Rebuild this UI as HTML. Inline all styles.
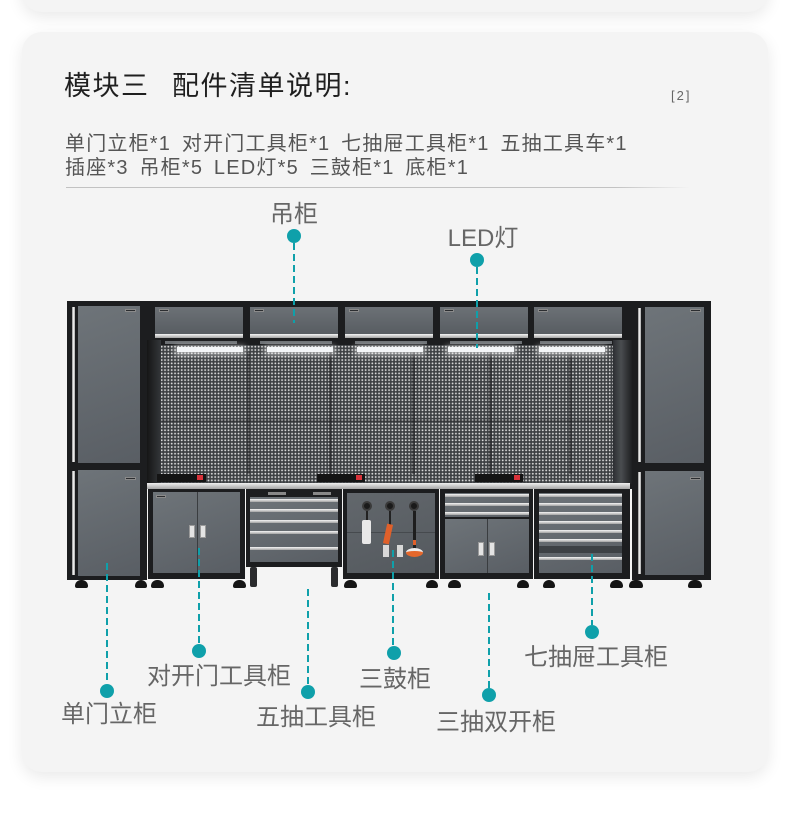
<!DOCTYPE html>
<html><head><meta charset="utf-8">
<style>
*{margin:0;padding:0;box-sizing:border-box}
html,body{width:790px;height:828px;background:#fff;overflow:hidden}
body{position:relative;font-family:"Liberation Sans","Noto Sans CJK SC",sans-serif}
.a{position:absolute}
.card{position:absolute;left:22px;width:746px;background:#f4f4f4;border-radius:20px;box-shadow:0 5px 16px rgba(0,0,0,0.09)}
.lbl{position:absolute;width:200px;text-align:center;font-size:24px;line-height:24px;color:#666;white-space:nowrap}
.dot{position:absolute;width:14px;height:14px;border-radius:50%;background:#0fa0aa}
.ln{position:absolute;width:2px;background:repeating-linear-gradient(to bottom,#0fa0aa 0 7px,transparent 7px 11px)}
.blk{position:absolute;background:#1c1d1f}
.door{position:absolute;background:linear-gradient(160deg,#6e7479,#595e64)}
.chr{position:absolute;background:linear-gradient(#f6f6f6,#a3a3a3)}
.vchr{position:absolute;background:linear-gradient(90deg,#8a8a8a,#fafafa,#a0a0a0)}
.foot{position:absolute;top:580px;height:8px;background:#151515;border-radius:6px 6px 2px 2px}
.pw{position:absolute;top:474px;height:8px;background:#141414}
.red{position:absolute;width:6px;height:5px;background:#d9323a;top:1px}
.badge{position:absolute;height:3px;background:#2b2d30;border:1px solid #8a8a8a}
.hd{position:absolute;background:#e4e4e4;border:1px solid #9a9a9a}
.hc{position:absolute;top:307px;width:88px;height:28px;background:linear-gradient(180deg,#6c7176,#575c61)}
.hs{position:absolute;top:334px;width:88px;height:4px;background:linear-gradient(#f6f6f6,#a3a3a3)}
.hb{position:absolute;top:341px;width:72px;height:3px;background:#6d7175}
.led{position:absolute;top:347px;width:66px;height:5px;background:#f4f6f8;box-shadow:0 1px 6px 2px rgba(255,255,255,0.55)}
.seam{position:absolute;top:352px;width:3px;height:122px;background:rgba(20,20,22,0.4)}
</style></head><body>

<!-- previous card bottom -->
<div class="card" style="top:-40px;height:52px"></div>
<!-- main card -->
<div class="card" style="top:32px;height:740px"></div>

<!-- title -->
<div class="a" style="left:64px;top:73px;font-size:27px;line-height:27px;color:#1f1f1f;letter-spacing:1.5px;white-space:nowrap">模块三</div>
<div class="a" style="left:172px;top:73px;font-size:27px;line-height:27px;color:#1f1f1f;letter-spacing:1.5px;white-space:nowrap">配件清单说明:</div>
<div class="a" style="left:671px;top:88px;font-size:13px;line-height:15px;color:#666;letter-spacing:2px">[2]</div>

<!-- list -->
<div class="a" style="left:65px;top:132px;font-size:20px;line-height:24px;color:#555;letter-spacing:1.2px;word-spacing:4px;white-space:nowrap">单门立柜*1 对开门工具柜*1 七抽屉工具柜*1 五抽工具车*1<br>插座*3 吊柜*5 LED灯*5 三鼓柜*1 底柜*1</div>
<div class="a" style="left:66px;top:187px;width:624px;height:1px;background:linear-gradient(90deg,#c2c2c2 0,#c2c2c2 88%,rgba(194,194,194,0) 100%)"></div>

<!-- ===== CABINET ===== -->
<div class="blk" style="left:145px;top:301px;width:488px;height:188px"></div>

<!-- hanging cabinets -->
<div class="hc" style="left:155px"></div><div class="hs" style="left:155px"></div>
<div class="hc" style="left:250px"></div><div class="hs" style="left:250px"></div>
<div class="hc" style="left:345px"></div><div class="hs" style="left:345px"></div>
<div class="hc" style="left:440px"></div><div class="hs" style="left:440px"></div>
<div class="hc" style="left:534px"></div><div class="hs" style="left:534px"></div>
<div class="badge" style="left:159px;top:309px;width:10px"></div>
<div class="badge" style="left:254px;top:309px;width:10px"></div>
<div class="badge" style="left:349px;top:309px;width:10px"></div>
<div class="badge" style="left:444px;top:309px;width:10px"></div>
<div class="badge" style="left:538px;top:309px;width:10px"></div>

<!-- pegboard -->
<div class="a" style="left:160px;top:345px;width:454px;height:138px;background-color:#3c3f42;background-image:radial-gradient(circle,#d8d8d8 0,#d8d8d8 0.7px,rgba(216,216,216,0) 1.15px);background-size:3.35px 3.35px"></div>
<div class="a" style="left:160px;top:420px;width:454px;height:2px;background:rgba(30,30,32,0.35)"></div>
<div class="seam" style="left:247px"></div>
<div class="seam" style="left:329px"></div>
<div class="seam" style="left:412px"></div>
<div class="seam" style="left:489px"></div>
<div class="seam" style="left:569px"></div>
<!-- side returns -->
<div class="a" style="left:145px;top:340px;width:16px;height:144px;background:linear-gradient(90deg,#111,#34373a)"></div>
<div class="a" style="left:613px;top:340px;width:20px;height:144px;background:linear-gradient(90deg,#2c2f32,#4a4d50 40%,#1a1b1d)"></div>

<!-- LED housings & lights -->
<div class="hb" style="left:165px"></div><div class="led" style="left:177px"></div>
<div class="hb" style="left:260px"></div><div class="led" style="left:267px"></div>
<div class="hb" style="left:355px"></div><div class="led" style="left:357px"></div>
<div class="hb" style="left:450px"></div><div class="led" style="left:448px"></div>
<div class="hb" style="left:540px"></div><div class="led" style="left:539px"></div>

<!-- power strips -->
<div class="pw" style="left:157px;width:49px"><div class="red" style="left:40px"></div></div>
<div class="pw" style="left:317px;width:48px"><div class="red" style="left:39px"></div></div>
<div class="pw" style="left:475px;width:48px"><div class="red" style="left:39px"></div></div>

<!-- worktop -->
<div class="a" style="left:144px;top:483px;width:486px;height:6px;background:linear-gradient(#f0f0f0,#a5a5a5)"></div>

<!-- C1 double door -->
<div class="blk" style="left:148px;top:489px;width:97px;height:90px"></div>
<div class="door" style="left:153px;top:492px;width:87px;height:81px"></div>
<div class="a" style="left:197px;top:492px;width:1px;height:81px;background:#3a3d40"></div>
<div class="hd" style="left:189px;top:525px;width:6px;height:13px"></div>
<div class="hd" style="left:200px;top:525px;width:6px;height:13px"></div>
<div class="badge" style="left:156px;top:495px;width:10px"></div>

<!-- C2 tool cart -->
<div class="blk" style="left:246px;top:489px;width:96px;height:78px"></div>
<div class="a" style="left:268px;top:492px;width:18px;height:3px;background:#888"></div>
<div class="a" style="left:313px;top:492px;width:18px;height:3px;background:#888"></div>
<div class="door" style="left:250px;top:497px;width:88px;height:65px"></div>
<div class="chr" style="left:250px;top:499px;width:88px;height:3px"></div>
<div class="chr" style="left:250px;top:509px;width:88px;height:3px"></div>
<div class="chr" style="left:250px;top:520px;width:88px;height:3px"></div>
<div class="chr" style="left:250px;top:531px;width:88px;height:3px"></div>
<div class="chr" style="left:250px;top:547px;width:88px;height:3px"></div>
<div class="a" style="left:250px;top:567px;width:7px;height:20px;background:#2a2b2d;border-radius:2px"></div>
<div class="a" style="left:331px;top:567px;width:7px;height:20px;background:#2a2b2d;border-radius:2px"></div>

<!-- C3 three drum -->
<div class="blk" style="left:343px;top:489px;width:96px;height:90px"></div>
<div class="a" style="left:347px;top:493px;width:88px;height:80px;background:linear-gradient(160deg,#62676c,#54595e)"></div>
<div class="a" style="left:347px;top:532px;width:88px;height:1px;background:#464a4e"></div>
<div class="a" style="left:362px;top:501px;width:10px;height:10px;border-radius:50%;background:#1a1a1a;border:2px solid #3a3a3a"></div>
<div class="a" style="left:385px;top:501px;width:10px;height:10px;border-radius:50%;background:#1a1a1a;border:2px solid #3a3a3a"></div>
<div class="a" style="left:409px;top:501px;width:10px;height:10px;border-radius:50%;background:#1a1a1a;border:2px solid #3a3a3a"></div>
<div class="a" style="left:366px;top:511px;width:2px;height:10px;background:#222"></div>
<div class="a" style="left:362px;top:520px;width:9px;height:24px;background:#e8e8e8;border-radius:2px"></div>
<div class="a" style="left:389px;top:511px;width:2px;height:14px;background:#222"></div>
<div class="a" style="left:385px;top:524px;width:6px;height:20px;background:#e0602a;transform:rotate(12deg)"></div>
<div class="a" style="left:383px;top:545px;width:6px;height:12px;background:#d8d8d8"></div>
<div class="a" style="left:397px;top:545px;width:6px;height:12px;background:#d8d8d8"></div>
<div class="a" style="left:413px;top:511px;width:3px;height:38px;background:#1e1e1e"></div>
<div class="a" style="left:413px;top:540px;width:3px;height:5px;background:#e0602a"></div>
<div class="a" style="left:406px;top:548px;width:17px;height:9px;border-radius:50%;background:#e5682c;border-top:3px solid #eee"></div>

<!-- C4 three drawer double door -->
<div class="blk" style="left:440px;top:489px;width:93px;height:90px"></div>
<div class="door" style="left:445px;top:493px;width:84px;height:24px"></div>
<div class="chr" style="left:445px;top:494px;width:84px;height:3px"></div>
<div class="chr" style="left:445px;top:503px;width:84px;height:3px"></div>
<div class="chr" style="left:445px;top:512px;width:84px;height:3px"></div>
<div class="door" style="left:445px;top:519px;width:84px;height:54px"></div>
<div class="a" style="left:487px;top:519px;width:1px;height:54px;background:#3a3d40"></div>
<div class="hd" style="left:478px;top:542px;width:6px;height:14px"></div>
<div class="hd" style="left:489px;top:542px;width:6px;height:14px"></div>

<!-- C5 seven drawer -->
<div class="blk" style="left:534px;top:489px;width:96px;height:90px"></div>
<div class="door" style="left:539px;top:493px;width:83px;height:80px"></div>
<div class="a" style="left:539px;top:546px;width:83px;height:7px;background:#3d4145"></div>
<div class="chr" style="left:539px;top:494px;width:83px;height:3px"></div>
<div class="chr" style="left:539px;top:503px;width:83px;height:3px"></div>
<div class="chr" style="left:539px;top:512px;width:83px;height:3px"></div>
<div class="chr" style="left:539px;top:521px;width:83px;height:3px"></div>
<div class="chr" style="left:539px;top:530px;width:83px;height:3px"></div>
<div class="chr" style="left:539px;top:539px;width:83px;height:3px"></div>
<div class="chr" style="left:539px;top:557px;width:83px;height:3px"></div>

<!-- left tall cabinet -->
<div class="blk" style="left:67px;top:301px;width:80px;height:279px"></div>
<div class="door" style="left:78px;top:306px;width:62px;height:157px"></div>
<div class="door" style="left:78px;top:470px;width:62px;height:106px"></div>
<div class="vchr" style="left:72px;top:307px;width:3px;height:155px"></div>
<div class="vchr" style="left:72px;top:471px;width:3px;height:104px"></div>
<div class="badge" style="left:125px;top:309px;width:11px"></div>
<div class="badge" style="left:125px;top:477px;width:11px"></div>

<!-- right tall cabinet -->
<div class="blk" style="left:632px;top:301px;width:79px;height:279px"></div>
<div class="door" style="left:645px;top:307px;width:59px;height:156px"></div>
<div class="door" style="left:645px;top:471px;width:59px;height:104px"></div>
<div class="vchr" style="left:638px;top:308px;width:3px;height:154px"></div>
<div class="vchr" style="left:638px;top:472px;width:3px;height:102px"></div>
<div class="badge" style="left:690px;top:309px;width:11px"></div>
<div class="badge" style="left:690px;top:477px;width:11px"></div>

<!-- feet -->
<div class="foot" style="left:75px;width:13px"></div>
<div class="foot" style="left:135px;width:12px"></div>
<div class="foot" style="left:151px;width:13px"></div>
<div class="foot" style="left:233px;width:13px"></div>
<div class="foot" style="left:344px;width:13px"></div>
<div class="foot" style="left:426px;width:12px"></div>
<div class="foot" style="left:448px;width:13px"></div>
<div class="foot" style="left:517px;width:12px"></div>
<div class="foot" style="left:543px;width:12px"></div>
<div class="foot" style="left:610px;width:13px"></div>
<div class="foot" style="left:629px;width:14px"></div>
<div class="foot" style="left:688px;width:14px"></div>

<!-- ===== CALLOUTS ===== -->
<div class="ln" style="left:293px;top:243px;height:80px"></div>
<div class="dot" style="left:287px;top:229px"></div>
<div class="lbl" style="left:194px;top:203px">吊柜</div>

<div class="ln" style="left:476px;top:267px;height:81px"></div>
<div class="dot" style="left:470px;top:253px"></div>
<div class="lbl" style="left:383px;top:227px">LED灯</div>

<div class="ln" style="left:106px;top:563px;height:121px"></div>
<div class="dot" style="left:100px;top:684px"></div>
<div class="lbl" style="left:9px;top:703px">单门立柜</div>

<div class="ln" style="left:198px;top:548px;height:96px"></div>
<div class="dot" style="left:192px;top:644px"></div>
<div class="lbl" style="left:119px;top:665px">对开门工具柜</div>

<div class="ln" style="left:307px;top:589px;height:96px"></div>
<div class="dot" style="left:301px;top:685px"></div>
<div class="lbl" style="left:216px;top:706px">五抽工具柜</div>

<div class="ln" style="left:392px;top:550px;height:96px"></div>
<div class="dot" style="left:387px;top:646px"></div>
<div class="lbl" style="left:295px;top:668px">三鼓柜</div>

<div class="ln" style="left:488px;top:593px;height:95px"></div>
<div class="dot" style="left:482px;top:688px"></div>
<div class="lbl" style="left:396px;top:711px">三抽双开柜</div>

<div class="ln" style="left:591px;top:554px;height:71px"></div>
<div class="dot" style="left:585px;top:625px"></div>
<div class="lbl" style="left:496px;top:646px">七抽屉工具柜</div>

</body></html>
